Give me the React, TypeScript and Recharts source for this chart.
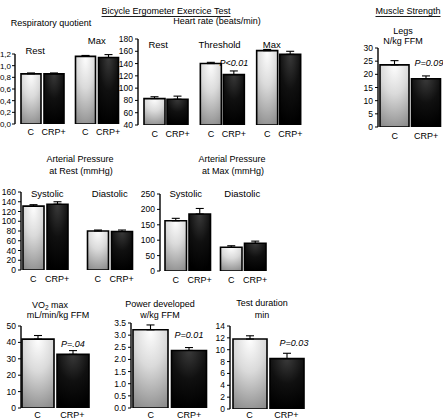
import React from 'react';
import { BarChart, Bar, XAxis, YAxis, ErrorBar, LabelList } from 'recharts';

const FONT = '"Liberation Sans", Arial, Helvetica, sans-serif';

// ---------- DATA ----------
// Respiratory quotient
const rqGroups = ['Rest', 'Max'];
const rqC = [0.86, 1.16];
const rqCErr = [0.015, 0.015];
const rqCRP = [0.86, 1.14];
const rqCRPErr = [0.015, 0.05];
const rqP = ['', ''];
const rqTicks = [0, 0.2, 0.4, 0.6, 0.8, 1.0, 1.2];

// Heart rate (beats/min)
const hrGroups = ['Rest', 'Threshold', 'Max'];
const hrC = [83, 140, 161];
const hrCErr = [3, 2, 2];
const hrCRP = [82, 122, 155];
const hrCRPErr = [5, 6, 5];
const hrP = ['', 'P<0.01', ''];
const hrTicks = [40, 60, 80, 100, 120, 140, 160, 180];

// Muscle strength legs N/kg FFM
const msGroups = ['Legs'];
const msC = [23.6];
const msCErr = [1.6];
const msCRP = [18.3];
const msCRPErr = [1.1];
const msP = ['P=0.09'];
const msTicks = [0, 5, 10, 15, 20, 25, 30];

// Arterial pressure at rest (mmHg)
const apRGroups = ['Systolic', 'Diastolic'];
const apRC = [131, 80];
const apRCErr = [3, 2];
const apRCRP = [135, 79];
const apRCRPErr = [5, 3];
const apRP = ['', ''];
const apRTicks = [0, 20, 40, 60, 80, 100, 120, 140, 160];

// Arterial pressure at max (mmHg)
const apMGroups = ['Systolic', 'Diastolic'];
const apMC = [163, 77];
const apMCErr = [8, 5];
const apMCRP = [185, 90];
const apMCRPErr = [18, 7];
const apMP = ['', ''];
const apMTicks = [0, 50, 100, 150, 200, 250];

// VO2 max mL/min/kg FFM
const voGroups = ['VO2'];
const voC = [42];
const voCErr = [2.2];
const voCRP = [32.7];
const voCRPErr = [2.3];
const voP = ['P=.04'];
const voTicks = [0, 10, 20, 30, 40, 50];

// Power developed w/kg FFM
const pwGroups = ['Power'];
const pwC = [3.22];
const pwCErr = [0.2];
const pwCRP = [2.37];
const pwCRPErr = [0.12];
const pwP = ['P=0.01'];
const pwTicks = [0, 0.5, 1.0, 1.5, 2.0, 2.5, 3.0, 3.5];

// Test duration min
const tdGroups = ['Duration'];
const tdC = [11.8];
const tdCErr = [0.55];
const tdCRP = [8.5];
const tdCRPErr = [0.9];
const tdP = ['P=0.03'];
const tdTicks = [0, 2, 4, 6, 8, 10, 12, 14];

// ---------- LAYOUT ----------
type PanelCfg = {
  id: string;
  groups: string[];
  cVals: number[];
  cErr: number[];
  pVals: number[];
  pErr: number[];
  pLabels: string[];
  domain: [number, number];
  ticks: number[];
  fmt: (v: number) => string;
  plotLeft: number;
  plotRight: number;
  plotTop: number;
  plotBottom: number;
  padLeft?: number;
  barSize: number;
  barGap: number;
  groupLabelY: (number | null)[];
  groupLabelDx: number[];
  labelDy: number;
  pDy: number;
  pDx: number;
  tickFont?: number;
  tickMargin?: number;
};

const intFmt = (v: number) => String(v);
const commaFmt = (v: number) => v.toFixed(1).replace('.', ',');
const dotFmt = (v: number) => v.toFixed(1);

const panels: PanelCfg[] = [
  {
    id: 'rq', groups: rqGroups, cVals: rqC, cErr: rqCErr, pVals: rqCRP, pErr: rqCRPErr, pLabels: rqP,
    domain: [0, 1.2], ticks: rqTicks, fmt: commaFmt,
    plotLeft: 15, plotRight: 124, plotTop: 54, plotBottom: 124, barSize: 20, barGap: 3,
    groupLabelY: [50, 40], groupLabelDx: [-7, 0], labelDy: 8, pDy: 12, pDx: 0,
    tickFont: 8, tickMargin: 1,
  },
  {
    id: 'hr', groups: hrGroups, cVals: hrC, cErr: hrCErr, pVals: hrCRP, pErr: hrCRPErr, pLabels: hrP,
    domain: [40, 180], ticks: hrTicks, fmt: intFmt,
    plotLeft: 138, plotRight: 307, plotTop: 39, plotBottom: 125, barSize: 21, barGap: 2,
    groupLabelY: [44, 44, 44], groupLabelDx: [-8, -3, -7], labelDy: 9, pDy: 11.5, pDx: 0,
  },
  {
    id: 'ms', groups: msGroups, cVals: msC, cErr: msCErr, pVals: msCRP, pErr: msCRPErr, pLabels: msP,
    domain: [0, 30], ticks: msTicks, fmt: intFmt,
    plotLeft: 378, plotRight: 443, plotTop: 48, plotBottom: 127, barSize: 29, barGap: 2.5,
    groupLabelY: [null], groupLabelDx: [0], labelDy: 9, pDy: 16, pDx: 3,
  },
  {
    id: 'apr', groups: apRGroups, cVals: apRC, cErr: apRCErr, pVals: apRCRP, pErr: apRCRPErr, pLabels: apRP,
    domain: [0, 160], ticks: apRTicks, fmt: intFmt,
    plotLeft: 21, plotRight: 142, padLeft: -8, plotTop: 192, plotBottom: 270, barSize: 21, barGap: 3,
    groupLabelY: [193, 193], groupLabelDx: [2, 0], labelDy: 9, pDy: 12, pDx: 0,
  },
  {
    id: 'apm', groups: apMGroups, cVals: apMC, cErr: apMCErr, pVals: apMCRP, pErr: apMCRPErr, pLabels: apMP,
    domain: [0, 250], ticks: apMTicks, fmt: intFmt,
    plotLeft: 160, plotRight: 271, plotTop: 194, plotBottom: 271, barSize: 21.5, barGap: 2.5,
    groupLabelY: [193, 193], groupLabelDx: [-2, -1], labelDy: 8.5, pDy: 12, pDx: 0,
  },
  {
    id: 'vo', groups: voGroups, cVals: voC, cErr: voCErr, pVals: voCRP, pErr: voCRPErr, pLabels: voP,
    domain: [0, 50], ticks: voTicks, fmt: intFmt,
    plotLeft: 21, plotRight: 89, plotTop: 326, plotBottom: 408, barSize: 32, barGap: 3,
    groupLabelY: [null], groupLabelDx: [0], labelDy: 6.5, pDy: 10, pDx: 0,
  },
  {
    id: 'pw', groups: pwGroups, cVals: pwC, cErr: pwCErr, pVals: pwCRP, pErr: pwCRPErr, pLabels: pwP,
    domain: [0, 3.5], ticks: pwTicks, fmt: dotFmt,
    plotLeft: 131, plotRight: 209, plotTop: 323, plotBottom: 408, barSize: 35, barGap: 3.5,
    groupLabelY: [null], groupLabelDx: [0], labelDy: 6.5, pDy: 15, pDx: 0,
  },
  {
    id: 'td', groups: tdGroups, cVals: tdC, cErr: tdCErr, pVals: tdCRP, pErr: tdCRPErr, pLabels: tdP,
    domain: [0, 14], ticks: tdTicks, fmt: intFmt,
    plotLeft: 230, plotRight: 306, plotTop: 326, plotBottom: 409, barSize: 34, barGap: 3,
    groupLabelY: [null], groupLabelDx: [0], labelDy: 5.5, pDy: 16, pDx: 7,
  },
];

type Title = { text: string; x: number; y: number; u?: boolean };
const titles: Title[] = [
  { text: 'Bicycle Ergometer Exercice Test', x: 166, y: 11, u: true },
  { text: 'Muscle Strength', x: 408, y: 11, u: true },
  { text: 'Respiratory quotient', x: 51, y: 23 },
  { text: 'Heart rate (beats/min)', x: 217, y: 21 },
  { text: 'Legs', x: 403, y: 31 },
  { text: 'N/kg FFM', x: 403, y: 41 },
  { text: 'Arterial Pressure', x: 80, y: 159 },
  { text: 'at Rest (mmHg)', x: 81, y: 171 },
  { text: 'Arterial Pressure', x: 232, y: 159 },
  { text: 'at Max (mmHg)', x: 233, y: 171 },
  { text: 'mL/min/kg FFM', x: 58, y: 315 },
  { text: 'Power developed', x: 160, y: 304 },
  { text: 'w/kg FFM', x: 160, y: 315 },
  { text: 'Test duration', x: 262, y: 303 },
  { text: 'min', x: 262, y: 315 },
];

const TXT = { fontFamily: FONT, fill: '#000' };

function Panel({ cfg }: { cfg: PanelCfg }) {
  const YW = 34, MT = 40, MR = 14, XH = 22;
  const boxLeft = cfg.plotLeft - YW;
  const boxTop = cfg.plotTop - MT;
  const width = cfg.plotRight + MR - boxLeft;
  const height = cfg.plotBottom + XH - boxTop;
  const data = cfg.groups.map((g, i) => ({
    group: g,
    c: cfg.cVals[i],
    cErr: [0, cfg.cErr[i]],
    crp: cfg.pVals[i],
    crpErr: [0, cfg.pErr[i]],
    p: cfg.pLabels[i],
  }));
  const half = (cfg.barSize + cfg.barGap) / 2;
  const tick = (props: any) => {
    const { x, payload, index } = props;
    const i = payload && payload.index != null ? payload.index : index || 0;
    const ly = cfg.plotBottom - boxTop + cfg.labelDy;
    const gy = cfg.groupLabelY[i];
    return (
      <g>
        <text x={x - half} y={ly} textAnchor="middle" dominantBaseline="central" fontSize={9} {...TXT}>C</text>
        <text x={x + half} y={ly} textAnchor="middle" dominantBaseline="central" fontSize={9} {...TXT}>CRP+</text>
        {gy != null ? (
          <text x={x + (cfg.groupLabelDx[i] || 0)} y={gy - boxTop} textAnchor="middle" dominantBaseline="central" fontSize={9.5} {...TXT}>
            {payload.value}
          </text>
        ) : null}
      </g>
    );
  };
  const pLabel = (props: any) => {
    const { x, y, width: w, value } = props;
    if (!value) return null;
    return (
      <text x={Number(x) + Number(w) / 2 + cfg.pDx} y={Number(y) - cfg.pDy} textAnchor="middle" dominantBaseline="central" fontSize={9} fontStyle="italic" {...TXT}>
        {value}
      </text>
    );
  };
  return (
    <div style={{ position: 'absolute', left: boxLeft, top: boxTop }}>
      <BarChart width={width} height={height} data={data} margin={{ top: MT, right: MR, bottom: 0, left: 0 }} barGap={cfg.barGap} barSize={cfg.barSize}>
        <defs>
          <radialGradient id={`${cfg.id}-light`} cx="50%" cy="0%" r="105%" fx="50%" fy="0%">
            <stop offset="0%" stopColor="#ffffff" />
            <stop offset="45%" stopColor="#dadada" />
            <stop offset="100%" stopColor="#8e8e8e" />
          </radialGradient>
          <radialGradient id={`${cfg.id}-dark`} cx="50%" cy="0%" r="100%" fx="50%" fy="0%">
            <stop offset="0%" stopColor="#3a3a3a" />
            <stop offset="50%" stopColor="#101010" />
            <stop offset="100%" stopColor="#000000" />
          </radialGradient>
        </defs>
        <XAxis dataKey="group" type="category" axisLine={false} tickLine={false} height={XH} interval={0} tick={tick} padding={{ left: cfg.padLeft ?? 0, right: 0 }} />
        <YAxis
          type="number"
          width={YW}
          domain={cfg.domain}
          ticks={cfg.ticks}
          interval={0}
          allowDataOverflow
          tickFormatter={cfg.fmt}
          tick={{ fontSize: cfg.tickFont ?? 8.5, fill: '#000', fontFamily: FONT }}
          tickSize={3}
          tickMargin={cfg.tickMargin ?? 2}
          axisLine={{ stroke: '#000', strokeWidth: 1.4 }}
          tickLine={{ stroke: '#000', strokeWidth: 1 }}
        />
        <Bar dataKey="c" fill={`url(#${cfg.id}-light)`} stroke="#000" strokeWidth={1.6} isAnimationActive={false}>
          <ErrorBar dataKey="cErr" width={4} strokeWidth={1.1} stroke="#000" direction="y" />
        </Bar>
        <Bar dataKey="crp" fill={`url(#${cfg.id}-dark)`} stroke="#000" strokeWidth={1.6} isAnimationActive={false}>
          <ErrorBar dataKey="crpErr" width={4} strokeWidth={1.1} stroke="#000" direction="y" />
          <LabelList dataKey="p" content={pLabel} />
        </Bar>
      </BarChart>
    </div>
  );
}

export default function App() {
  return (
    <div style={{ position: 'absolute', left: 0, top: 0, width: 443, height: 420, overflow: 'hidden', background: '#fff', fontFamily: FONT }}>
      {panels.map((p) => (
        <Panel key={p.id} cfg={p} />
      ))}
      <svg width={443} height={420} style={{ position: 'absolute', left: 0, top: 0, pointerEvents: 'none' }}>
        {titles.map((t, i) => (
          <text key={i} x={t.x} y={t.y} textAnchor="middle" dominantBaseline="central" fontSize={9} style={t.u ? { textDecoration: 'underline' } : undefined} {...TXT}>
            {t.text}
          </text>
        ))}
        <text x={50} y={305} textAnchor="middle" dominantBaseline="central" fontSize={9} {...TXT}>
          VO<tspan fontSize={6.5} dy={2}>2</tspan>
          <tspan dy={-2}> max</tspan>
        </text>
      </svg>
    </div>
  );
}
